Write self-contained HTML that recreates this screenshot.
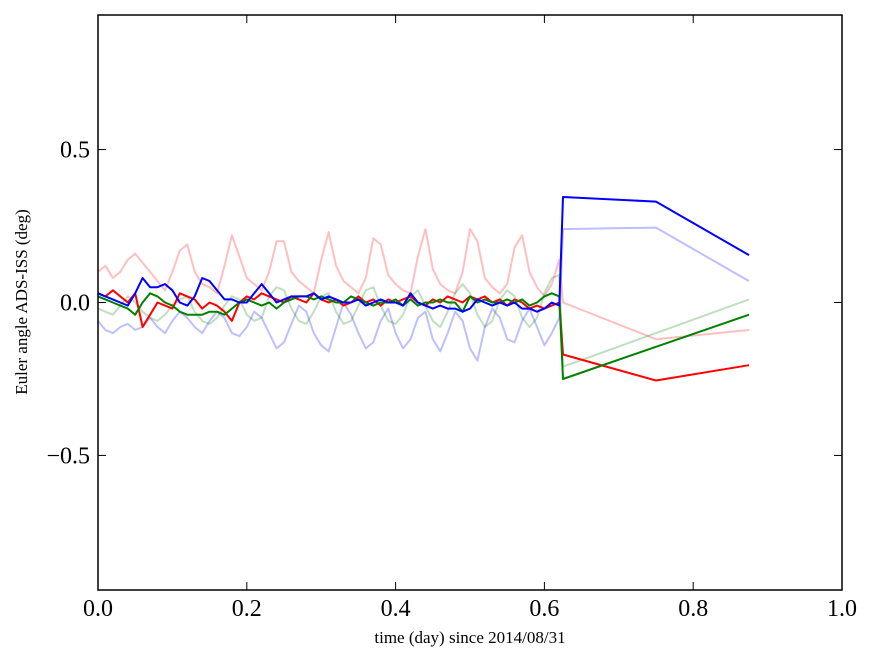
<!DOCTYPE html>
<html><head><meta charset="utf-8"><style>
body{margin:0;background:#fff;}
svg text{font-family:"Liberation Serif",serif;fill:#000;}
</style></head><body>
<svg width="875" height="662" id="chart">
<rect x="0" y="0" width="875" height="662" fill="#fff"/>
<g id="plot"></g>
<rect x="98" y="15" width="744" height="575" fill="none" stroke="#000" stroke-width="1.5"/>
<g id="ticks"></g>
<text x="470" y="643" font-size="17" text-anchor="middle">time (day) since 2014/08/31</text>
<text transform="translate(27,302) rotate(-90)" font-size="17" text-anchor="middle">Euler angle ADS-ISS (deg)</text>
</svg>
<script>
const xTicks=[0,0.2,0.4,0.6,0.8,1.0];
const xTickLabels=["0.0","0.2","0.4","0.6","0.8","1.0"];
const yTicks=[-0.5,0,0.5];
const yTickLabels=["\u22120.5","0.0","0.5"];
const step=0.01;
const tailTimes=[0.625,0.75,0.875];
const paleRed=[0.1,0.12,0.08,0.1,0.14,0.16,0.13,0.1,0.07,0.04,0.1,0.17,0.19,0.1,0.06,0.05,0.03,0.12,0.22,0.15,0.08,0.06,0.04,0.1,0.2,0.2,0.1,0.07,0.05,0.03,0.14,0.23,0.12,0.07,0.05,0.03,0.08,0.21,0.19,0.09,0.06,0.04,0.03,0.15,0.24,0.11,0.06,0.04,0.03,0.1,0.24,0.2,0.08,0.05,0.03,0.06,0.18,0.22,0.1,0.05,0.02,0.06,0.14];
const paleRedTail=[0.0,-0.12,-0.09];
const paleBlue=[-0.06,-0.09,-0.1,-0.08,-0.07,-0.09,-0.08,-0.05,-0.08,-0.1,-0.06,-0.03,-0.05,-0.08,-0.1,-0.06,-0.03,-0.05,-0.1,-0.11,-0.08,-0.03,-0.05,-0.1,-0.15,-0.13,-0.07,-0.01,-0.03,-0.1,-0.14,-0.16,-0.08,0.0,-0.04,-0.1,-0.15,-0.13,-0.06,-0.02,-0.1,-0.15,-0.12,-0.05,-0.03,-0.12,-0.16,-0.1,-0.03,-0.06,-0.15,-0.19,-0.08,-0.02,-0.05,-0.12,-0.13,-0.06,-0.02,-0.08,-0.14,-0.1,-0.05];
const paleBlueTail=[0.24,0.245,0.07];
const paleGreen=[-0.02,-0.03,-0.04,-0.01,0.02,0.0,-0.03,-0.05,-0.06,-0.04,-0.01,0.01,0.02,-0.03,-0.06,-0.07,-0.05,-0.01,0.02,0.01,-0.04,-0.06,-0.05,0.02,0.05,0.04,-0.02,-0.06,-0.07,-0.03,0.02,0.03,-0.03,-0.07,-0.06,-0.01,0.04,0.05,-0.01,-0.06,-0.07,-0.04,0.02,0.04,-0.01,-0.06,-0.08,-0.03,0.03,0.06,0.03,-0.04,-0.08,-0.06,0.01,0.04,0.02,-0.05,-0.08,-0.05,0.03,0.08,0.09];
const paleGreenTail=[-0.21,-0.1,0.01];
const red=[0.03,0.02,0.04,0.02,0.0,0.03,-0.08,-0.04,0.0,-0.01,-0.02,0.03,0.02,0.01,-0.02,0.0,-0.01,-0.03,-0.06,0.0,0.02,0.01,0.03,0.02,0.01,0.0,0.02,0.01,0.0,0.03,0.01,0.0,0.01,-0.01,0.0,0.02,0.0,0.01,-0.01,0.01,0.0,0.01,0.02,0.0,-0.01,0.01,0.0,0.02,0.01,0.0,0.02,0.01,0.02,0.0,0.01,-0.01,0.01,0.0,-0.02,-0.01,-0.02,-0.01,0.0];
const redTail=[-0.17,-0.255,-0.205];
const green=[0.02,0.01,0.0,-0.01,-0.02,-0.04,0.0,0.03,0.02,0.0,-0.01,-0.03,-0.04,-0.04,-0.04,-0.03,-0.03,-0.04,-0.02,0.0,0.01,0.0,-0.01,0.0,-0.02,0.0,0.01,0.02,0.02,0.01,0.02,0.01,0.0,0.0,0.02,0.01,0.0,-0.01,0.0,0.0,0.01,-0.01,0.01,-0.01,0.0,0.0,0.01,0.0,0.0,-0.03,0.02,0.0,0.01,0.0,0.0,0.01,0.0,0.01,-0.01,0.0,0.02,0.03,0.02];
const greenTail=[-0.25,-0.145,-0.04];
const blue=[0.03,0.02,0.01,0.0,-0.01,0.03,0.08,0.05,0.05,0.06,0.04,0.0,-0.01,0.02,0.08,0.07,0.04,0.01,0.01,0.0,0.0,0.03,0.06,0.03,0.0,0.01,0.02,0.02,0.02,0.03,0.01,0.02,0.01,0.0,0.0,0.01,-0.01,0.0,0.01,0.0,0.0,-0.01,0.03,0.0,-0.01,-0.02,-0.01,-0.02,-0.02,-0.03,-0.02,0.01,0.0,-0.01,0.0,-0.01,0.0,-0.02,-0.02,-0.03,-0.02,0.0,-0.01];
const blueTail=[0.345,0.33,0.155];

const X0=98,X1=842,Y0=15,Y1=590,YMIN=-0.94,YMAX=0.94;
const xs=v=>X0+v*(X1-X0);
const ys=v=>Y1-(v-YMIN)/(YMAX-YMIN)*(Y1-Y0);
const NS="http://www.w3.org/2000/svg";
const plot=document.getElementById('plot');
const series=[
 ['pale-red-series',paleRed,paleRedTail,'rgba(255,0,0,0.25)'],
 ['pale-blue-series',paleBlue,paleBlueTail,'rgba(0,0,255,0.25)'],
 ['pale-green-series',paleGreen,paleGreenTail,'rgba(0,128,0,0.25)'],
 ['red-series',red,redTail,'#ff0000'],
 ['green-series',green,greenTail,'#008000'],
 ['blue-series',blue,blueTail,'#0000ff']];
series.forEach(s=>{
 let pts=s[1].map((v,i)=>xs(i*step).toFixed(1)+','+ys(v).toFixed(1));
 s[2].forEach((v,i)=>pts.push(xs(tailTimes[i]).toFixed(1)+','+ys(v).toFixed(1)));
 const p=document.createElementNS(NS,'polyline');
 p.setAttribute('points',pts.join(' '));
 p.setAttribute('fill','none');p.setAttribute('stroke',s[3]);p.setAttribute('stroke-width','2');
 p.setAttribute('stroke-linejoin','round');
 
 
 plot.appendChild(p);
});
const tk=document.getElementById('ticks');
function line(x1,y1,x2,y2){const l=document.createElementNS(NS,'line');l.setAttribute('x1',x1);l.setAttribute('y1',y1);l.setAttribute('x2',x2);l.setAttribute('y2',y2);l.setAttribute('stroke','#000');l.setAttribute('stroke-width','1');
 
 
 tk.appendChild(l);}
function txt(x,y,s,a){const t=document.createElementNS(NS,'text');t.setAttribute('x',x);t.setAttribute('y',y);t.setAttribute('font-size','24');t.setAttribute('text-anchor',a);t.textContent=s;
 
 
 tk.appendChild(t);}
xTicks.forEach((v,i)=>{const x=xs(v);line(x,Y1,x,Y1-8);line(x,Y0,x,Y0+8);txt(x,Y1+26,xTickLabels[i],'middle');});
yTicks.forEach((v,i)=>{const y=ys(v);line(X0,y,X0+8,y);line(X1,y,X1-8,y);txt(X0-8,y+8,yTickLabels[i],'end');});
</script>
</body></html>
